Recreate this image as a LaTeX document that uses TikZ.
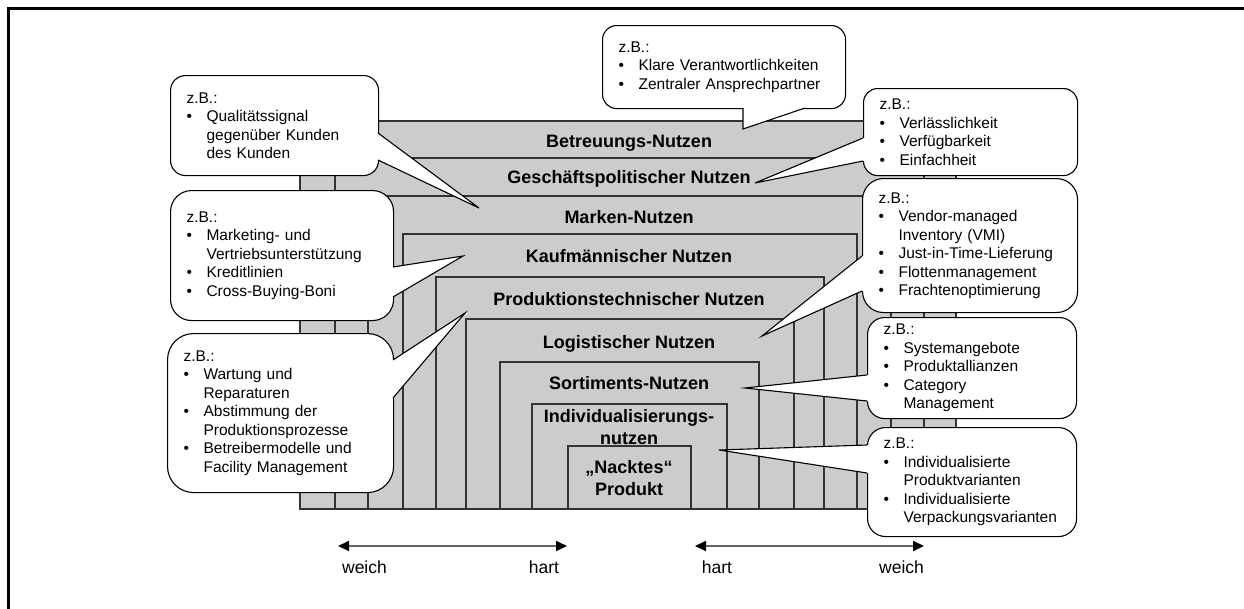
\documentclass[tikz,border=0pt]{standalone}
\usepackage{fontspec}
\setmainfont{Liberation Sans}
\usepackage{tikz}
\usetikzlibrary{arrows.meta,calc}
\definecolor{Schicht}{RGB}{204,204,204}
\definecolor{Rand}{RGB}{51,51,51}
\definecolor{Schaft}{RGB}{100,100,100}
\newcommand{\pkt}{\makebox[20pt][l]{\textbullet}}
\newcommand{\ein}{\hspace*{20pt}}
\newcommand{\zeiger}[4]{%
  \fill[white] ($(#1)+(#4)$) -- (#1) -- (#2) -- (#3) -- ($(#3)+(#4)$) -- cycle;
  \draw[zeig] (#1) -- (#2) -- (#3);}
\tikzset{
  schicht/.style={fill=Schicht,draw=Rand,line width=1.1pt},
  slbl/.style={font=\fontsize{18}{22}\selectfont\bfseries,align=center,inner sep=0pt,anchor=base},
  callout/.style={draw=black,fill=white,line width=1.1pt,inner xsep=16pt,inner ysep=2pt,
                  align=left,anchor=north west,font=\fontsize{15.5}{18.5}\selectfont},
  cbox/.style n args={3}{callout,text width=#1,minimum height=#2,rounded corners=#3},
  zeig/.style={draw=black,line width=1.1pt,line join=miter},
  pfeil/.style={>={Triangle[length=11pt,width=10pt,color=black]},<->,draw=Schaft,line width=1.8pt},
  ende/.style={font=\fontsize{17.5}{20}\selectfont,inner sep=0pt,anchor=base},
}
\begin{document}
\begin{tikzpicture}[x=1pt,y=-1pt]
  \useasboundingbox (0,0) rectangle (1244,608);
  % Rahmen
  \draw[line width=2.7pt] (8.7,640) -- (8.7,8.7) -- (1280,8.7);
  % Nutzen-Schichten
  \draw[schicht] (300,121) rectangle (956,509);
  \draw[schicht] (335,158) rectangle (924,509);
  \draw[schicht] (368,196) rectangle (891,509);
  \draw[schicht] (403,234) rectangle (857,509);
  \draw[schicht] (436,277) rectangle (824,509);
  \draw[schicht] (466,319) rectangle (794,509);
  \draw[schicht] (500,362) rectangle (759,509);
  \draw[schicht] (532,404) rectangle (727,509);
  \draw[schicht] (568,446) rectangle (691,509);
  \node[slbl] (lBetr)  at (629,147) {Betreuungs-Nutzen};
  \node[slbl] (lGesch) at (629,183) {Geschäftspolitischer Nutzen};
  \node[slbl] (lMarke) at (629,223) {Marken-Nutzen};
  \node[slbl] (lKauf)  at (629,262) {Kaufmännischer Nutzen};
  \node[slbl] (lProd)  at (629,305) {Produktionstechnischer Nutzen};
  \node[slbl] (lLog)   at (629,348) {Logistischer Nutzen};
  \node[slbl] (lSort)  at (629,389) {Sortiments-Nutzen};
  \node[slbl] (lIndiv) at (629,444) {Individualisierungs-\\nutzen};
  \node[slbl] (lNackt) at (629,495) {„Nacktes“\\Produkt};
  % Sprechblasen
  \coordinate (tQual)  at (479,208);
  \coordinate (tKauf)  at (463,256);
  \coordinate (tProd)  at (465,313);
  \coordinate (tBetr)  at (743,129);
  \coordinate (tGesch) at (755,183);
  \coordinate (tLog)   at (762,336);
  \coordinate (tSort)  at (745,388);
  \coordinate (tIndiv) at (719,450);
  \node[cbox={176pt}{100pt}{15pt}] (cQual) at (170,75)
    {z.B.:\\ \pkt Qualitätssignal\\ \ein gegenüber Kunden\\ \ein des Kunden};
  \zeiger{378,133}{tQual}{378,160}{-3,0}
  \node[cbox={191pt}{130pt}{21pt}] (cKauf) at (170,190)
    {z.B.:\\ \pkt Marketing- und\\ \ein Vertriebsunterstützung\\ \pkt Kreditlinien\\ \pkt Cross-Buying-Boni};
  \zeiger{393,267}{tKauf}{393,297}{-3,0}
  \node[cbox={194pt}{159pt}{26pt}] (cProd) at (167,333)
    {z.B.:\\ \pkt Wartung und\\ \ein Reparaturen\\ \pkt Abstimmung der\\ \ein Produktionsprozesse\\
     \pkt Betreibermodelle und\\ \ein Facility Management};
  \zeiger{393,360}{tProd}{393,398}{-3,0}
  \node[cbox={211pt}{83pt}{14pt}] (cBetr) at (602,25)
    {z.B.:\\ \pkt Klare Verantwortlichkeiten\\ \pkt Zentraler Ansprechpartner};
  \zeiger{743,108}{tBetr}{805,108}{0,-3}
  \node[cbox={182pt}{87pt}{14pt}] (cGesch) at (863,88)
    {z.B.:\\ \pkt Verlässlichkeit\\ \pkt Verfügbarkeit\\ \pkt Einfachheit};
  \zeiger{863,138}{tGesch}{863,161}{3,0}
  \node[cbox={183pt}{134pt}{21pt}] (cLog) at (862,178)
    {z.B.:\\ \pkt Vendor-managed\\ \ein Inventory (VMI)\\ \pkt Just-in-Time-Lieferung\\
     \pkt Flottenmanagement\\ \pkt Frachtenoptimierung};
  \zeiger{862,256}{tLog}{862,291}{3,0}
  \node[cbox={177pt}{101pt}{17pt}] (cSort) at (867,317)
    {z.B.:\\ \pkt Systemangebote\\ \pkt Produktallianzen\\ \pkt Category\\ \ein Management};
  \zeiger{867,375}{tSort}{867,401}{3,0}
  \node[cbox={177pt}{109pt}{18pt}] (cIndiv) at (867,427)
    {z.B.:\\ \pkt Individualisierte\\ \ein Produktvarianten\\ \pkt Individualisierte\\ \ein Verpackungsvarianten};
  \zeiger{867,445}{tIndiv}{867,473}{3,0}
  % weich / hart
  \coordinate (wL) at (338,546);
  \coordinate (hL) at (567,546);
  \coordinate (hR) at (695,546);
  \coordinate (wR) at (924,546);
  \draw[pfeil] (wL) -- (hL);
  \draw[pfeil] (hR) -- (wR);
  \node[ende] (weichL) at (364.5,573) {weich};
  \node[ende] (hartL)  at (544,573)   {hart};
  \node[ende] (hartR)  at (717,573)   {hart};
  \node[ende] (weichR) at (901.5,573) {weich};
\end{tikzpicture}
\end{document}
